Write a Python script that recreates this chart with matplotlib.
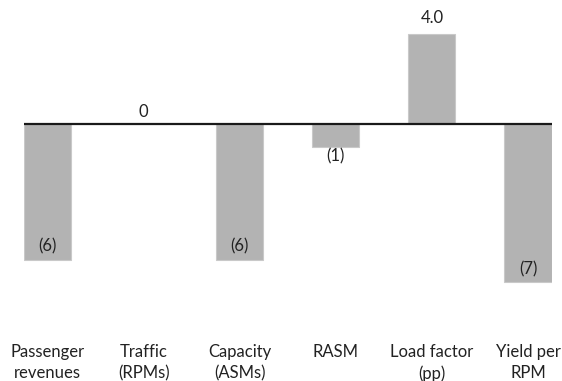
import numpy as np
import matplotlib.pyplot as plt

plt.rcParams['font.family'] = ['Lato', 'DejaVu Sans']

categories = ['Passenger\nrevenues', 'Traffic\n(RPMs)', 'Capacity\n(ASMs)',
              'RASM', 'Load factor\n(pp)', 'Yield per\nRPM']
values = [-6, 0, -6, -1, 4.0, -7]
value_labels = ['(6)', '0', '(6)', '(1)', '4.0', '(7)']

fig = plt.figure(figsize=(5.62, 3.81), dpi=100)
# axes placed in pixel terms: x 24..552, y 20..300 (from top)
ax = fig.add_axes([24/562, 81/381, 528/562, 280/381])

x = np.arange(len(categories))
ax.bar(x, values, width=0.49, color='#b3b3b3', edgecolor='#c9c9c9', linewidth=0.8, zorder=2)
ax.axhline(0, color='#1a1a1a', linewidth=1.6, zorder=3)

ax.set_xlim(-0.2445, 5.25)
ax.set_ylim(-(300-124)/22.6, (124-20)/22.6)

fs = 12
for xi, v, lab in zip(x, values, value_labels):
    if v > 0 or v == 0:
        off = 11 if v > 0 else 8.6
        ax.annotate(lab, (xi, v), xytext=(0, off), textcoords='offset points',
                    ha='center', va='center', fontsize=fs, color='#222222')
    elif v > -2:
        ax.annotate(lab, (xi, v), xytext=(0, -7.2), textcoords='offset points',
                    ha='center', va='center', fontsize=fs, color='#222222')
    else:
        ax.annotate(lab, (xi, v), xytext=(0, 9.4), textcoords='offset points',
                    ha='center', va='center', fontsize=fs, color='#222222')

ax.set_xticks(x)
ax.set_xticklabels(categories, fontsize=fs, color='#222222', linespacing=1.4)
ax.tick_params(axis='x', length=0, pad=31.5)
ax.set_yticks([])
for s in ax.spines.values():
    s.set_visible(False)

fig.savefig('out.png', dpi=100)
